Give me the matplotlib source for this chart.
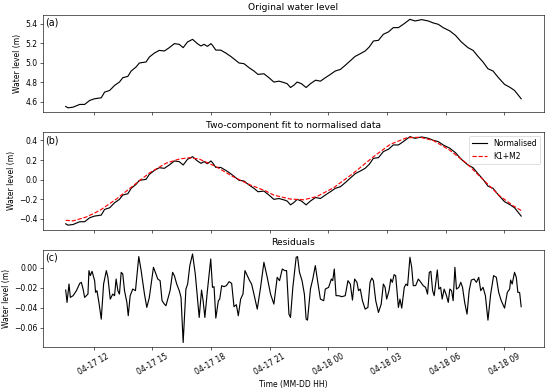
import numpy as np
import pandas as pd
import matplotlib
matplotlib.use("Agg")
import matplotlib.pyplot as plt
import matplotlib.dates as mdates

# times are hours after 04-17 00:00
level_hours = [10.57, 10.69, 10.95, 11.29, 11.54, 11.80, 12.05, 12.39, 12.56, 12.82,
               13.07, 13.32, 13.49, 13.75, 13.92, 14.17, 14.34, 14.68, 14.85, 15.11,
               15.36, 15.62, 15.87, 16.13, 16.38, 16.58, 16.80, 17.06, 17.31, 17.49,
               17.65, 17.82, 18.00,
               18.08, 18.25, 18.50, 18.76, 19.01, 19.27, 19.44, 19.69, 19.95, 20.20,
               20.41, 20.71, 20.97, 21.22, 21.48, 21.73, 21.90, 22.07, 22.24, 22.41,
               22.63, 22.87, 23.09, 23.35, 23.60, 23.85, 24.11, 24.36, 24.62, 24.87,
               25.13, 25.38, 25.64, 25.89, 26.10,
               26.31, 26.57, 26.82, 27.08, 27.33, 27.59, 27.84, 28.18, 28.44, 28.78,
               29.12, 29.37, 29.63, 29.88, 30.22, 30.51, 30.81, 31.15, 31.41, 31.66,
               31.92, 32.17, 32.43, 32.68, 33.02, 33.28, 33.53, 33.87]
level_m = [4.552, 4.538, 4.545, 4.573, 4.573, 4.614, 4.631, 4.641, 4.699, 4.716,
           4.767, 4.802, 4.846, 4.860, 4.915, 4.956, 4.997, 5.007, 5.058, 5.099,
           5.126, 5.120, 5.154, 5.195, 5.188, 5.154, 5.212, 5.239, 5.195, 5.171,
           5.188, 5.167, 5.195,
           5.178, 5.129, 5.129, 5.099, 5.065, 5.024, 4.997, 4.990, 4.949, 4.915,
           4.880, 4.887, 4.846, 4.802, 4.811, 4.797, 4.785, 4.746, 4.769, 4.802,
           4.785, 4.746, 4.785, 4.821, 4.811, 4.846, 4.880, 4.915, 4.931, 4.973,
           5.020, 5.065, 5.092, 5.120, 5.161,
           5.222, 5.229, 5.291, 5.315, 5.359, 5.359, 5.393, 5.444, 5.427, 5.441,
           5.427, 5.407, 5.393, 5.359, 5.325, 5.280, 5.212, 5.154, 5.126, 5.065,
           5.007, 4.938, 4.915, 4.853, 4.778, 4.750, 4.716, 4.631]
mean_level = 5.005

fit_hours = [10.57, 10.95, 11.63, 12.31, 13.16, 14.00, 14.85, 15.70, 16.38, 16.89,
             17.40, 18.25, 19.10, 19.95, 20.80, 21.22, 22.07, 22.75, 23.43, 24.28,
             25.30, 26.31, 27.17, 28.01, 28.69, 29.37, 30.22, 31.07, 31.92, 32.77,
             33.45, 33.87]
fit_m = [-0.417, -0.423, -0.383, -0.317, -0.200, -0.067, 0.067, 0.167, 0.210, 0.223,
         0.210, 0.133, 0.033, -0.050, -0.117, -0.160, -0.200, -0.207, -0.173, -0.083,
         0.067, 0.233, 0.360, 0.427, 0.433, 0.400, 0.300, 0.167, 0.000, -0.167,
         -0.267, -0.317]

res_hours = [10.57, 10.64, 10.74, 10.81, 10.95, 11.12, 11.29, 11.37, 11.46, 11.54,
             11.71, 11.76, 11.83, 11.92, 12.05, 12.10, 12.17, 12.27, 12.39, 12.51,
             12.65, 12.73, 12.85, 12.98, 13.07, 13.15, 13.24, 13.32, 13.41, 13.49,
             13.58, 13.70, 13.77, 13.87, 14.00, 14.14, 14.31, 14.43, 14.60, 14.72,
             14.85, 15.06, 15.19, 15.28, 15.40, 15.50, 15.62, 15.70, 15.91, 16.04,
             16.13, 16.25, 16.38, 16.47, 16.58, 16.72, 16.81, 16.92, 17.06, 17.20,
             17.31, 17.40, 17.52, 17.60, 17.69, 17.82,
             17.99, 18.08, 18.16, 18.25, 18.38, 18.45, 18.55, 18.67, 18.79, 18.93,
             19.06, 19.18, 19.30, 19.40, 19.52, 19.64, 19.74, 19.86, 19.98, 20.08,
             20.20, 20.37, 20.54, 20.71, 20.88, 21.05, 21.22, 21.39, 21.51, 21.65,
             21.78, 21.87, 21.99, 22.07, 22.19, 22.36, 22.43, 22.53, 22.66, 22.78,
             22.87, 22.94, 23.09, 23.21, 23.34, 23.48, 23.60, 23.77, 23.85, 24.02,
             24.16, 24.23, 24.31, 24.40, 24.53, 24.70, 24.87, 25.01, 25.13, 25.24,
             25.35, 25.47, 25.55, 25.64, 25.75, 25.89, 26.03, 26.14,
             26.23, 26.31, 26.43, 26.57, 26.71, 26.82, 26.91, 26.99, 27.11, 27.20,
             27.28, 27.37, 27.45, 27.59, 27.67, 27.76, 27.89, 27.98, 28.06, 28.18,
             28.27, 28.35, 28.47, 28.61, 28.74, 28.86, 28.98, 29.08, 29.17, 29.25,
             29.34, 29.42, 29.49, 29.58, 29.66, 29.75, 29.83, 29.93, 30.05, 30.14,
             30.22, 30.31, 30.39, 30.48, 30.56, 30.68, 30.78, 30.87, 30.98, 31.10,
             31.21, 31.32, 31.46, 31.58, 31.70, 31.80, 31.92, 32.04, 32.17, 32.31,
             32.46, 32.60, 32.72, 32.85, 33.02, 33.16, 33.28, 33.33, 33.41, 33.53,
             33.62, 33.70, 33.79, 33.87]
res_mm = [-22.4, -34.7, -16.4, -29.7, -28.0, -23.0, -15.7, -14.7, -21.4, -29.7,
          -26.4, -3.0, -8.0, -3.7, -13.0, -24.7, -23.0, -34.7, -51.4, -16.4,
          -3.0, -9.7, -31.4, -26.4, -28.0, -11.4, -23.0, -26.4, -4.7, -6.4,
          -23.0, -34.7, -48.0, -28.0, -21.4, -23.0, 11.0, -3.0, -26.4, -39.7,
          -29.7, 0.3, -6.4, -11.4, -13.0, -33.0, -36.4, -38.0, -23.0, -4.7,
          -8.0, -16.4, -23.0, -29.7, -74.7, -21.4, -16.4, 2.0, 13.6, -6.4,
          -29.7, -49.7, -22.4, -33.0, -49.7, -23.0,
          8.6, -19.7, -19.0, -50.4, -33.0, -31.4, -18.0, -19.0, -18.0, -14.0,
          -15.7, -39.0, -37.0, -48.0, -31.4, -26.4, -3.0, -8.0, -13.0, -16.4,
          -26.4, -41.4, -19.7, 5.3, -9.7, -26.4, -36.4, -9.7, -13.0, -1.4,
          -3.0, -3.0, -46.4, -49.7, -19.7, 10.3, 11.0, -4.7, -13.0, -26.4,
          -51.4, -52.4, -21.4, -11.4, 2.0, -16.4, -31.4, -33.0, -21.4, -19.7,
          -11.4, -13.0, -1.4, -28.0, -28.0, -29.0, -28.0, -13.0, -16.4, -32.4,
          -11.4, -14.7, -23.0, -21.4, -33.0, -41.4, -39.7, -14.7,
          -10.4, -13.0, -33.0, -44.7, -36.4, -16.4, -19.7, -31.4, -23.0, -11.4,
          -14.7, -7.0, -8.0, -39.7, -31.4, -40.4, -19.7, -16.4, -18.0, 10.3,
          0.3, -18.0, -18.0, -11.4, -14.7, -18.0, -19.7, -26.4, -4.7, -3.7,
          -23.0, -28.0, -16.4, -2.4, -21.4, -19.7, -31.4, -21.4, -28.0, -34.7,
          -21.4, -23.0, -33.0, 0.3, -21.4, -19.7, -14.7, -19.7, -34.7, -46.4,
          -23.0, -12.4, -11.4, -14.7, -9.7, -23.0, -19.7, -28.0, -52.4, -26.4,
          -8.0, -9.7, -24.7, -33.0, -40.4, -24.7, -21.4, -12.4, -16.4, -4.7,
          -9.7, -24.7, -24.7, -39.0]

START = pd.Timestamp("2023-04-17 00:00")


def to_time(hours):
    return START + pd.to_timedelta(np.asarray(hours), unit="h")


t_level = to_time(level_hours)
t_fit = to_time(fit_hours)
t_res = to_time(res_hours)
normalised = np.array(level_m) - mean_level
residuals = np.array(res_mm) / 1000.0

# drawn at 55 dpi so default font sizes scale like the reference
fig, axes = plt.subplots(3, 1, sharex=True, figsize=(10, 392 / 55), dpi=55)
fig.subplots_adjust(left=0.078, right=0.989, top=0.962, bottom=0.115, hspace=0.205)

ax = axes[0]
ax.plot(t_level, level_m, color="black")
ax.set_title("Original water level")
ax.set_ylabel("Water level (m)")

ax = axes[1]
ax.plot(t_level, normalised, color="black", label="Normalised")
ax.plot(t_fit, fit_m, "r--", label="K1+M2")
ax.set_title("Two-component fit to normalised data")
ax.set_ylabel("Water level (m)")
ax.legend(loc="upper right")

ax = axes[2]
ax.plot(t_res, residuals, color="black")
ax.set_title("Residuals")
ax.set_ylabel("Water level (m)")
ax.set_xlabel("Time (MM-DD HH)")

for ax, tag in zip(axes, ["(a)", "(b)", "(c)"]):
    ax.text(0.005, 0.97, tag, transform=ax.transAxes, fontsize=12.5,
            ha="left", va="top")

axes[2].xaxis.set_major_locator(mdates.HourLocator(byhour=range(0, 24, 3)))
axes[2].xaxis.set_major_formatter(mdates.DateFormatter("%m-%d %H"))
plt.setp(axes[2].get_xticklabels(), rotation=30)

fig.savefig("out.png", dpi=55)
